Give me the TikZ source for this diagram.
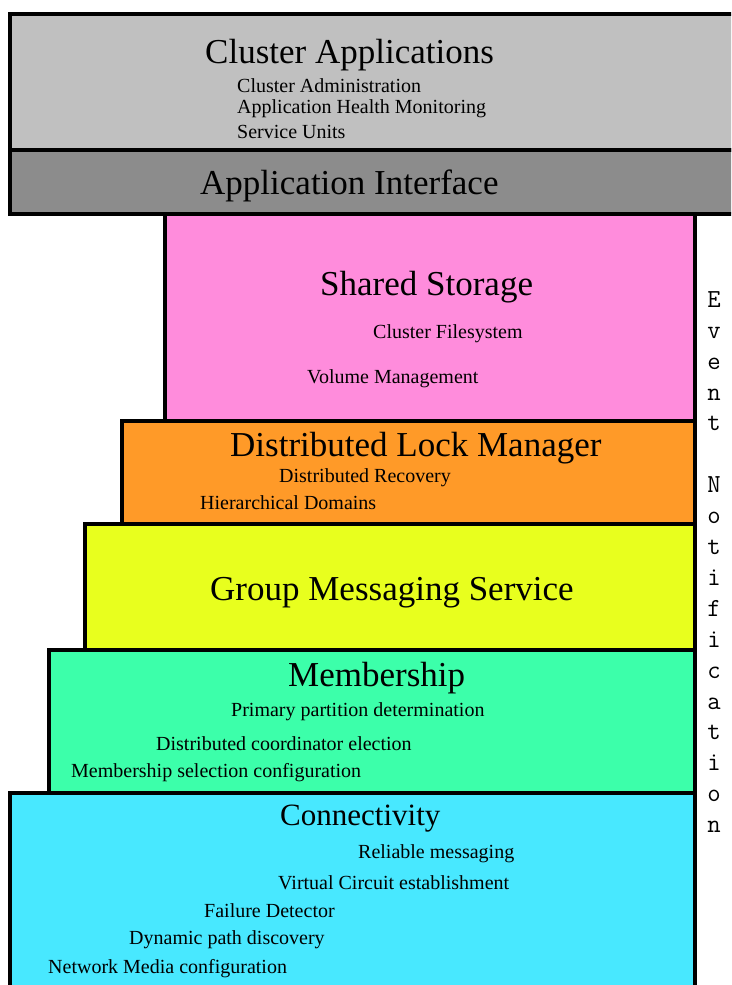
\documentclass[tikz,border=0pt]{standalone}
\usepackage{fontspec}
\setmainfont{Liberation Serif}
\definecolor{appsgray}{HTML}{C0C0C0}
\definecolor{ifacegray}{HTML}{8C8C8C}
\definecolor{storagepink}{HTML}{FF8CDC}
\definecolor{lockorange}{HTML}{FF9A28}
\definecolor{msgyellow}{HTML}{E8FF1E}
\definecolor{membergreen}{HTML}{3CFFAA}
\definecolor{conncyan}{HTML}{48E8FF}
\newlength{\BorderWidth}
\setlength{\BorderWidth}{3.5pt}
\tikzset{
  layer/.style={draw=black, line width=\BorderWidth},
  layer title/.style={anchor=west, inner sep=0pt, font=\fontsize{35}{40}\selectfont},
  layer item/.style={anchor=west, inner sep=0pt, font=\fontsize{20}{24}\selectfont},
  notify/.style={align=center, inner sep=0pt, font=\ttfamily\fontsize{26}{30.9}\selectfont},
}

\begin{document}
\begin{tikzpicture}[x=1pt, y=-1pt]
  \clip (0,0) rectangle (731,985);

  % stack of layers, top to bottom
  \path[layer, fill=appsgray]    (10,14)  rectangle (745,150);
  \path[layer, fill=ifacegray]   (10,150) rectangle (745,214);
  \path[layer, fill=storagepink] (165,214) rectangle (695,421);
  \path[layer, fill=lockorange]  (122,421) rectangle (695,524);
  \path[layer, fill=msgyellow]   (85,524)  rectangle (695,650);
  \path[layer, fill=membergreen] (49,650)  rectangle (695,793);
  \path[layer, fill=conncyan]    (10,793)  rectangle (695,1000);

  \node[layer title] (apps) at (205,55) {Cluster Applications};
  \node[layer item] (admin) at (237,86) {Cluster Administration};
  \node[layer item] (health) at (237,109) {Application Health Monitoring};
  \node[layer item] (units) at (237,132) {Service Units};

  \node[layer title] (iface) at (200,186) {Application Interface};

  \node[layer title] (storage) at (320,287) {Shared Storage};
  \node[layer item] (cfs) at (373,334) {Cluster Filesystem};
  \node[layer item] (volume) at (307,379) {Volume Management};

  \node[layer title] (dlm) at (230,448) {Distributed Lock Manager};
  \node[layer item] (recovery) at (279,478) {Distributed Recovery};
  \node[layer item] (domains) at (200,503) {Hierarchical Domains};

  \node[layer title] (gms) at (210,593) {Group Messaging Service};

  \node[layer title] (member) at (288,678) {Membership};
  \node[layer item] (primary) at (231,712) {Primary partition determination};
  \node[layer item] (coord) at (156,744) {Distributed coordinator election};
  \node[layer item] (selection) at (71,773) {Membership selection configuration};

  \node[layer title, font=\fontsize{31}{36}\selectfont] (conn) at (280,819) {Connectivity};
  \node[layer item] (reliable) at (358,854) {Reliable messaging};
  \node[layer item] (circuit) at (278,883) {Virtual Circuit establishment};
  \node[layer item] (failure) at (204,911) {Failure Detector};
  \node[layer item] (discovery) at (129,940) {Dynamic path discovery};
  \node[layer item] (media) at (48,969) {Network Media configuration};

  \node[notify] (event) at (714,562)
    {E\\v\\e\\n\\t\\[30.9pt]N\\o\\t\\i\\f\\i\\c\\a\\t\\i\\o\\n};
\end{tikzpicture}
\end{document}
